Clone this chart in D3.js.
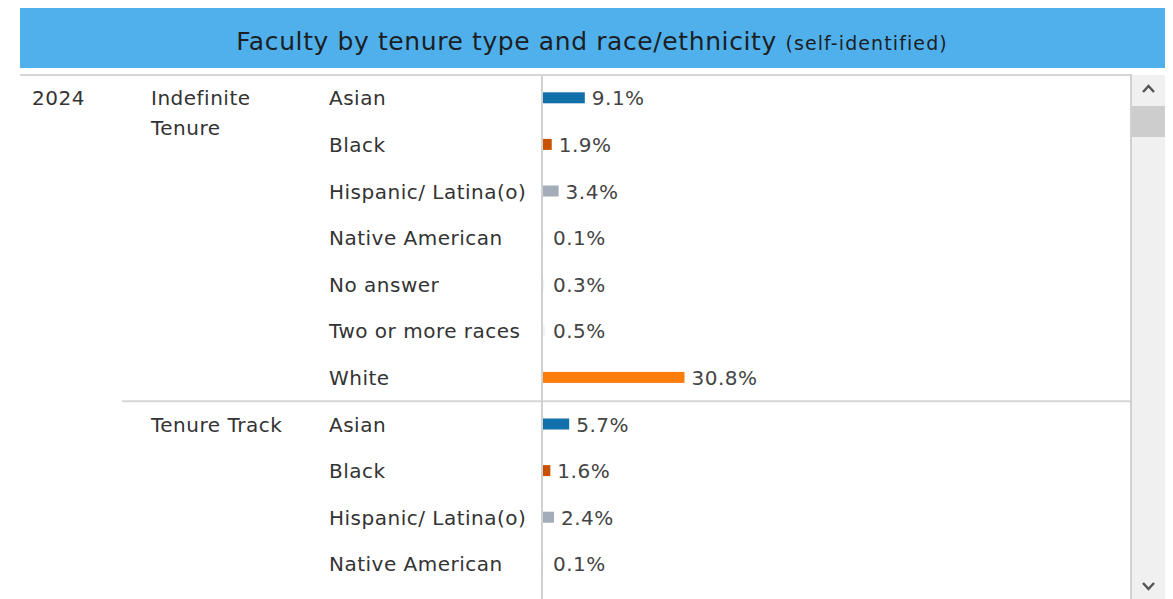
<!DOCTYPE html>
<html>
<head>
<meta charset="utf-8">
<script src="https://cdn.jsdelivr.net/npm/d3@7"></script>
<style>
  body { margin: 0; background: #fff; }
  text { font-family: "DejaVu Sans", sans-serif; }
  .lbl { font-size: 20px; letter-spacing: 0.5px; }
</style>
</head>
<body>
<div id="chart"></div>
<script>
var width = 1173, height = 599;

// data
var year = "2024";
var tenureTypes = ["Indefinite Tenure", "Tenure Track"];
var races = ["Asian", "Black", "Hispanic/ Latina(o)", "Native American", "No answer", "Two or more races", "White"];
var indefiniteValues = [9.1, 1.9, 3.4, 0.1, 0.3, 0.5, 30.8];
var tenureTrackValues = [5.7, 1.6, 2.4, 0.1];   // rest of the rows is scrolled out of view
var raceColors = ["#1170aa", "#c85200", "#a3acb9", "#f4f4f4", "#f4f4f4", "#f4f4f4", "#fc7d0b"];

// flatten into rows
var rows = [];
indefiniteValues.forEach(function (v, i) {
  rows.push({ tenure: tenureTypes[0], race: races[i], value: v, key: tenureTypes[0] + "|" + races[i] });
});
tenureTrackValues.forEach(function (v, i) {
  rows.push({ tenure: tenureTypes[1], race: races[i], value: v, key: tenureTypes[1] + "|" + races[i] });
});

var svg = d3.select("#chart").append("svg")
  .attr("width", width)
  .attr("height", height);

// title bar
svg.append("rect")
  .attr("x", 20).attr("y", 8)
  .attr("width", 1145).attr("height", 60)
  .attr("fill", "#50b0ec");

var title = svg.append("text")
  .attr("x", 592).attr("y", 50)
  .attr("text-anchor", "middle")
  .attr("fill", "#1b1f24");
title.append("tspan").attr("font-size", "25px").style("letter-spacing", "0.6px")
  .text("Faculty by tenure type and race/ethnicity ");
title.append("tspan").attr("font-size", "19px").style("letter-spacing", "1.1px")
  .text("(self-identified)");

// scales
var tableTop = 75;
var rowH = 46.6;
var y = d3.scaleBand()
  .domain(rows.map(function (d) { return d.key; }))
  .range([tableTop, tableTop + rows.length * rowH]);

var x = d3.scaleLinear().domain([0, 32]).range([543, 690]);
var color = d3.scaleOrdinal().domain(races).range(raceColors);

var body = svg.append("g");

// grid lines
body.append("line")
  .attr("x1", 20).attr("x2", 1131)
  .attr("y1", tableTop).attr("y2", tableTop)
  .attr("stroke", "#d6d6d6").attr("stroke-width", 2);

var groupBreak = y(rows[indefiniteValues.length].key);
body.append("line")
  .attr("x1", 122).attr("x2", 1131)
  .attr("y1", groupBreak).attr("y2", groupBreak)
  .attr("stroke", "#d6d6d6").attr("stroke-width", 2);

body.append("line")
  .attr("x1", x(0) - 1).attr("x2", x(0) - 1)
  .attr("y1", tableTop).attr("y2", height)
  .attr("stroke", "#d0d0d0").attr("stroke-width", 2);

function rowMid(d) { return y(d.key) + y.bandwidth() / 2; }

// year and tenure headers
body.append("text")
  .attr("class", "lbl")
  .attr("x", 32).attr("y", rowMid(rows[0]))
  .attr("dy", "0.35em")
  .attr("fill", "#333")
  .text(year);

body.selectAll(".tenure")
  .data(tenureTypes)
  .enter()
  .append("text")
  .attr("class", "tenure lbl")
  .attr("y", function (t) {
    var first = rows.find(function (d) { return d.tenure === t; });
    return rowMid(first);
  })
  .attr("fill", "#333")
  .each(function (t) {
    // wrap "Indefinite Tenure" on two lines like the reference
    var el = d3.select(this);
    var words = t === "Indefinite Tenure" ? ["Indefinite", "Tenure"] : [t];
    words.forEach(function (w, i) {
      el.append("tspan")
        .attr("x", 151)
        .attr("dy", i === 0 ? "0.35em" : "30px")
        .text(w);
    });
  });

// race labels
body.selectAll(".race")
  .data(rows)
  .enter()
  .append("text")
  .attr("class", "race lbl")
  .attr("x", 329)
  .attr("y", rowMid)
  .attr("dy", "0.35em")
  .attr("fill", "#333")
  .text(function (d) { return d.race; });

// bars
body.selectAll(".bar")
  .data(rows)
  .enter()
  .append("rect")
  .attr("class", "bar")
  .attr("x", x(0))
  .attr("y", function (d) { return rowMid(d) - 6; })
  .attr("width", function (d) { return x(d.value) - x(0); })
  .attr("height", 11)
  .attr("fill", function (d) { return color(d.race); });

// value labels
body.selectAll(".val")
  .data(rows)
  .enter()
  .append("text")
  .attr("class", "val lbl")
  .attr("x", function (d) { return Math.max(x(d.value), x(0) + 3) + 7; })
  .attr("y", rowMid)
  .attr("dy", "0.35em")
  .attr("fill", "#444")
  .text(function (d) { return d3.format(".1f")(d.value) + "%"; });

// scrollbar
var sb = svg.append("g");
sb.append("rect")
  .attr("x", 1132).attr("y", tableTop)
  .attr("width", 33).attr("height", height - tableTop)
  .attr("fill", "#f0f0f0");
sb.append("line")
  .attr("x1", 1131).attr("x2", 1131)
  .attr("y1", tableTop - 1).attr("y2", height)
  .attr("stroke", "#d0d0d0").attr("stroke-width", 2);
sb.append("rect")
  .attr("x", 1132).attr("y", 106)
  .attr("width", 33).attr("height", 31)
  .attr("fill", "#cdcdcd");
sb.append("path")
  .attr("d", "M1143,92 L1148.5,86 L1154,92")
  .attr("fill", "none").attr("stroke", "#555").attr("stroke-width", 2.5);
sb.append("path")
  .attr("d", "M1143,583 L1148.5,589 L1154,583")
  .attr("fill", "none").attr("stroke", "#555").attr("stroke-width", 2.5);
</script>
</body>
</html>
